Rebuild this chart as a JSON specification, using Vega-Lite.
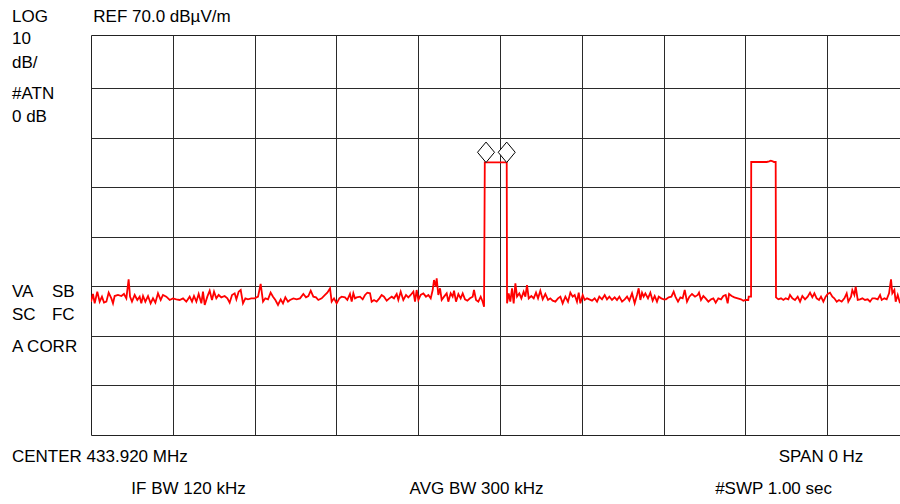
{
  "$schema": "https://vega.github.io/schema/vega-lite/v6.json",
  "width": 810,
  "height": 400,
  "autosize": {"type": "none"},
  "padding": {"left": 91, "top": 35, "right": 0, "bottom": 69},
  "background": "white",
  "config": {"view": {"stroke": "#222222", "strokeWidth": 1}, "font": "Liberation Sans"},
  "datasets": {
    "trace": [
      {"x":0,"y":16.90},{"x":2.4,"y":18.45},{"x":4.5,"y":16.56},{"x":7.7,"y":18.92},{"x":10.6,"y":16.90},{"x":13.4,"y":17.91},{"x":15.9,"y":16.70},{"x":18.8,"y":16.90},{"x":21.6,"y":18.72},{"x":24.9,"y":17.57},{"x":26.9,"y":16.56},{"x":28.9,"y":18.04},{"x":33.0,"y":18.25},{"x":37.1,"y":18.04},{"x":40.3,"y":18.45},{"x":43.2,"y":17.57},{"x":46.0,"y":21.41},{"x":47.7,"y":17.91},{"x":50.1,"y":16.90},{"x":53.4,"y":18.25},{"x":56.6,"y":17.24},{"x":59.5,"y":17.91},{"x":61.5,"y":16.56},{"x":63.6,"y":18.04},{"x":66.4,"y":16.90},{"x":69.7,"y":18.04},{"x":72.9,"y":16.56},{"x":75.8,"y":17.57},{"x":78.7,"y":16.70},{"x":81.9,"y":18.58},{"x":85.2,"y":17.24},{"x":88.0,"y":18.25},{"x":92.1,"y":17.91},{"x":96.2,"y":17.24},{"x":100.2,"y":17.57},{"x":104.3,"y":17.37},{"x":108.4,"y":17.24},{"x":112.5,"y":17.57},{"x":116.5,"y":16.90},{"x":120.6,"y":17.91},{"x":123.5,"y":16.90},{"x":125.9,"y":18.04},{"x":128.8,"y":16.90},{"x":131.6,"y":18.45},{"x":134.9,"y":16.56},{"x":136.9,"y":18.92},{"x":139.0,"y":16.23},{"x":142.2,"y":17.91},{"x":145.1,"y":19.12},{"x":147.9,"y":17.24},{"x":150.4,"y":18.92},{"x":153.2,"y":17.57},{"x":156.1,"y":18.25},{"x":159.3,"y":17.77},{"x":163.4,"y":18.04},{"x":166.7,"y":17.57},{"x":169.5,"y":16.70},{"x":172.4,"y":18.25},{"x":175.6,"y":18.58},{"x":177.7,"y":17.37},{"x":180.5,"y":18.92},{"x":183.0,"y":19.25},{"x":185.8,"y":16.56},{"x":188.7,"y":17.57},{"x":191.9,"y":17.37},{"x":196.0,"y":17.57},{"x":200.1,"y":17.57},{"x":204.2,"y":17.91},{"x":207.4,"y":20.47},{"x":210.3,"y":16.90},{"x":213.1,"y":17.57},{"x":216.4,"y":17.37},{"x":219.6,"y":18.72},{"x":222.5,"y":17.91},{"x":225.4,"y":17.24},{"x":228.6,"y":16.23},{"x":231.9,"y":17.37},{"x":234.7,"y":16.56},{"x":237.6,"y":17.77},{"x":240.8,"y":16.90},
      {"x":243.3,"y":17.24},{"x":247.4,"y":17.57},{"x":251.4,"y":17.37},{"x":255.5,"y":17.57},{"x":259.6,"y":18.45},{"x":262.8,"y":17.77},{"x":265.7,"y":18.04},{"x":268.6,"y":19.12},{"x":271.8,"y":17.91},{"x":275.1,"y":17.77},{"x":277.9,"y":17.24},{"x":282.0,"y":17.57},{"x":286.1,"y":18.25},{"x":288.9,"y":18.72},{"x":292.2,"y":19.59},{"x":294.2,"y":16.90},{"x":297.1,"y":17.57},{"x":300.3,"y":16.56},{"x":303.6,"y":17.57},{"x":306.4,"y":17.91},{"x":310.5,"y":17.77},{"x":313.4,"y":17.24},{"x":316.6,"y":18.45},{"x":318.7,"y":16.90},{"x":320.7,"y":18.58},{"x":322.7,"y":17.57},{"x":324.8,"y":17.77},{"x":328.9,"y":17.91},{"x":332.1,"y":17.37},{"x":335.0,"y":18.25},{"x":337.8,"y":18.72},{"x":341.1,"y":18.58},{"x":343.1,"y":16.90},{"x":346.0,"y":17.24},{"x":349.2,"y":16.90},{"x":352.5,"y":17.57},{"x":355.3,"y":18.25},{"x":358.2,"y":17.91},{"x":361.5,"y":17.10},{"x":364.7,"y":17.57},{"x":367.6,"y":17.91},{"x":370.4,"y":17.57},{"x":373.7,"y":18.45},{"x":375.7,"y":17.24},{"x":378.6,"y":18.92},{"x":381.8,"y":17.24},{"x":385.1,"y":18.25},{"x":387.9,"y":17.77},{"x":390.8,"y":18.25},{"x":394.1,"y":18.92},{"x":396.1,"y":16.90},{"x":398.1,"y":19.25},{"x":400.2,"y":17.24},{"x":403.0,"y":18.25},{"x":406.3,"y":18.58},{"x":409.5,"y":17.91},{"x":412.4,"y":18.25},{"x":415.3,"y":17.57},{"x":417.7,"y":19.25},{"x":419.3,"y":21.27},{"x":421.4,"y":19.93},{"x":422.6,"y":21.61},{"x":424.6,"y":18.25},{"x":426.7,"y":19.59},{"x":428.7,"y":17.24},{"x":431.6,"y":17.91},{"x":434.8,"y":18.58},{"x":436.8,"y":16.90},{"x":439.7,"y":18.58},{"x":442.1,"y":17.91},{"x":443.8,"y":19.12},{"x":446.2,"y":16.90},{"x":449.1,"y":18.45},{"x":451.9,"y":17.57},{"x":454.4,"y":18.58},{"x":457.2,"y":17.37},{"x":460.1,"y":17.10},{"x":463.3,"y":17.57},{"x":466.6,"y":17.91},{"x":468.2,"y":19.25},{"x":470.7,"y":17.24},{"x":473.5,"y":16.90},{"x":476.4,"y":17.91},{"x":478.8,"y":16.90},{"x":480.5,"y":15.89},
      {"x":481.4,"y":45.02},{"x":508.2,"y":45.02},
      {"x":508.6,"y":16.56},{"x":510.6,"y":18.58},{"x":512.6,"y":16.90},{"x":514.7,"y":19.59},{"x":516.7,"y":16.56},{"x":518.8,"y":20.60},{"x":520.8,"y":17.91},{"x":523.6,"y":18.58},{"x":526.1,"y":17.57},{"x":528.9,"y":18.92},{"x":531.0,"y":17.91},{"x":533.0,"y":20.26},{"x":535.1,"y":17.57},{"x":538.3,"y":18.04},{"x":541.2,"y":17.57},{"x":544.0,"y":18.72},{"x":546.5,"y":17.57},{"x":549.3,"y":19.12},{"x":552.2,"y":17.37},{"x":555.4,"y":18.45},{"x":558.7,"y":17.24},{"x":561.5,"y":17.57},{"x":564.4,"y":17.10},{"x":567.7,"y":16.90},{"x":570.9,"y":17.57},{"x":573.8,"y":17.91},{"x":576.6,"y":16.56},{"x":579.9,"y":17.91},{"x":583.1,"y":16.90},{"x":586.0,"y":18.72},{"x":588.8,"y":17.91},{"x":591.3,"y":18.25},{"x":594.1,"y":16.90},{"x":596.2,"y":18.72},{"x":598.2,"y":16.56},{"x":601.1,"y":18.25},{"x":603.5,"y":17.24},{"x":606.4,"y":17.57},{"x":609.2,"y":17.37},{"x":612.5,"y":17.10},{"x":615.7,"y":17.57},{"x":618.6,"y":16.90},{"x":621.4,"y":17.91},{"x":624.7,"y":17.37},{"x":628.0,"y":18.25},{"x":630.8,"y":17.37},{"x":633.7,"y":17.91},{"x":636.9,"y":17.24},{"x":640.2,"y":17.77},{"x":643.0,"y":17.24},{"x":645.9,"y":17.91},{"x":649.2,"y":16.90},{"x":652.4,"y":17.37},{"x":655.3,"y":17.91},{"x":658.1,"y":17.10},{"x":661.4,"y":18.58},{"x":664.6,"y":16.56},{"x":667.5,"y":18.25},{"x":669.5,"y":19.59},{"x":671.6,"y":17.24},{"x":673.6,"y":18.72},{"x":675.6,"y":17.91},{"x":677.7,"y":18.58},{"x":680.9,"y":17.57},{"x":683.8,"y":18.72},{"x":686.6,"y":17.10},{"x":689.1,"y":18.04},{"x":691.9,"y":16.90},{"x":694.0,"y":17.91},{"x":697.2,"y":17.57},{"x":700.1,"y":17.37},{"x":702.9,"y":17.37},{"x":706.2,"y":17.77},{"x":709.5,"y":17.91},{"x":712.3,"y":18.92},{"x":714.4,"y":17.91},{"x":717.6,"y":16.90},{"x":720.5,"y":17.77},{"x":723.3,"y":17.57},{"x":725.8,"y":19.25},{"x":728.6,"y":16.90},{"x":731.5,"y":17.91},{"x":734.7,"y":18.45},
      {"x":738.4,"y":17.91},{"x":741.7,"y":18.25},{"x":743.3,"y":18.72},{"x":745.7,"y":17.24},{"x":748.6,"y":18.04},{"x":751.4,"y":17.57},{"x":754.7,"y":16.90},{"x":758.0,"y":17.37},{"x":760.8,"y":17.57},{"x":763.7,"y":16.70},{"x":766.9,"y":17.57},{"x":770.2,"y":17.37},{"x":773.0,"y":18.04},{"x":775.9,"y":18.25},{"x":778.3,"y":16.56},{"x":780.0,"y":18.45},{"x":783.2,"y":18.04},{"x":786.5,"y":17.77},{"x":790.6,"y":17.57},{"x":794.6,"y":17.37},{"x":797.5,"y":17.10},{"x":800.3,"y":17.24},{"x":802.0,"y":17.24},{"x":803.5,"y":17.24},{"x":804.0,"y":17.91},{"x":806.9,"y":17.91},
      {"x":807.1,"y":45.08},{"x":826.0,"y":45.08},{"x":829.0,"y":45.20},{"x":831.0,"y":45.34},{"x":833.5,"y":45.20},{"x":835.0,"y":45.08},{"x":837.0,"y":45.08},
      {"x":837.4,"y":17.77},{"x":840.3,"y":17.37},{"x":843.5,"y":17.57},{"x":846.4,"y":17.24},{"x":849.2,"y":17.57},{"x":852.5,"y":17.37},{"x":854.5,"y":18.25},{"x":857.4,"y":17.57},{"x":860.6,"y":17.24},{"x":863.9,"y":17.91},{"x":866.8,"y":16.90},{"x":869.6,"y":18.04},{"x":872.9,"y":17.37},{"x":876.1,"y":17.91},{"x":879.0,"y":18.72},{"x":881.8,"y":17.77},{"x":884.3,"y":18.58},{"x":887.1,"y":17.57},{"x":890.0,"y":17.24},{"x":892.4,"y":17.91},{"x":895.3,"y":16.90},{"x":898.1,"y":17.91},{"x":900.6,"y":18.45},{"x":903.4,"y":18.72},{"x":906.3,"y":17.91},{"x":908.7,"y":17.57},{"x":911.6,"y":16.90},{"x":914.4,"y":17.24},{"x":917.7,"y":16.90},{"x":921.0,"y":17.57},{"x":923.8,"y":18.58},{"x":925.8,"y":16.90},{"x":929.1,"y":17.91},{"x":930.7,"y":19.25},{"x":933.2,"y":18.25},{"x":934.8,"y":19.93},{"x":937.3,"y":17.24},{"x":940.1,"y":17.37},{"x":943.0,"y":17.57},{"x":946.2,"y":17.24},{"x":949.5,"y":17.37},{"x":952.3,"y":16.90},{"x":955.2,"y":17.57},{"x":958.4,"y":17.57},{"x":961.7,"y":17.37},{"x":964.6,"y":18.25},{"x":966.6,"y":17.24},{"x":969.9,"y":17.57},{"x":972.7,"y":17.37},{"x":975.6,"y":18.58},{"x":978.0,"y":21.41},{"x":979.6,"y":18.58},{"x":982.1,"y":19.25},{"x":983.7,"y":16.90},{"x":986.2,"y":18.25},{"x":989.0,"y":16.56}
    ],
    "markers": [
      {"x": 482.9, "y": 45.02},
      {"x": 508.2, "y": 45.02}
    ],
    "labelsLeft": [
      {"x": -96.6, "y": 73.32, "label": "LOG"},
      {"x": 2.8, "y": 73.32, "label": "REF 70.0 dBµV/m"},
      {"x": -96.6, "y": 68.88, "label": "10"},
      {"x": -96.6, "y": 64.04, "label": "dB/"},
      {"x": -96.6, "y": 57.79, "label": "#ATN"},
      {"x": -96.6, "y": 53.15, "label": "0 dB"},
      {"x": -96.6, "y": 17.84, "label": "VA"},
      {"x": -47.7, "y": 17.84, "label": "SB"},
      {"x": -96.6, "y": 13.20, "label": "SC"},
      {"x": -47.7, "y": 13.20, "label": "FC"},
      {"x": -96.6, "y": 6.75, "label": "A CORR"},
      {"x": -96.6, "y": -15.45, "label": "CENTER 433.920 MHz"}
    ],
    "labelsCenter": [
      {"x": 119.2, "y": -21.90, "label": "IF BW 120 kHz"},
      {"x": 471.3, "y": -21.90, "label": "AVG BW 300 kHz"},
      {"x": 892.4, "y": -15.45, "label": "SPAN 0 Hz"},
      {"x": 834.4, "y": -21.90, "label": "#SWP 1.00 sec"}
    ]
  },
  "encoding": {
    "x": {
      "field": "x", "type": "quantitative",
      "scale": {"domain": [0, 990.2], "nice": false, "zero": false},
      "axis": {"title": null, "labels": false, "ticks": false, "domain": false, "values": [100, 200, 300, 400, 500, 600, 700, 800, 900], "grid": true, "gridColor": "#2a2a2a", "gridOpacity": 1, "gridWidth": 1}
    },
    "y": {
      "field": "y", "type": "quantitative",
      "scale": {"domain": [-10, 70.7], "nice": false, "zero": false},
      "axis": {"title": null, "labels": false, "ticks": false, "domain": false, "values": [0, 10, 20, 30, 40, 50, 60], "grid": true, "gridColor": "#2a2a2a", "gridOpacity": 1, "gridWidth": 1}
    }
  },
  "layer": [
    {
      "data": {"name": "trace"},
      "mark": {"type": "line", "color": "#ff0000", "strokeWidth": 1.8, "clip": true}
    },
    {
      "data": {"name": "markers"},
      "mark": {"type": "point", "shape": "M0,-1.2L1,0L0,1.2L-1,0Z", "size": 289, "filled": false, "fill": "white", "fillOpacity": 1, "stroke": "black", "strokeWidth": 1, "opacity": 1, "yOffset": -10}
    },
    {
      "data": {"name": "labelsLeft"},
      "mark": {"type": "text", "align": "left", "baseline": "alphabetic", "fontSize": 17, "font": "Liberation Sans", "color": "black"},
      "encoding": {"text": {"field": "label"}}
    },
    {
      "data": {"name": "labelsCenter"},
      "mark": {"type": "text", "align": "center", "baseline": "alphabetic", "fontSize": 17, "font": "Liberation Sans", "color": "black"},
      "encoding": {"text": {"field": "label"}}
    }
  ]
}
